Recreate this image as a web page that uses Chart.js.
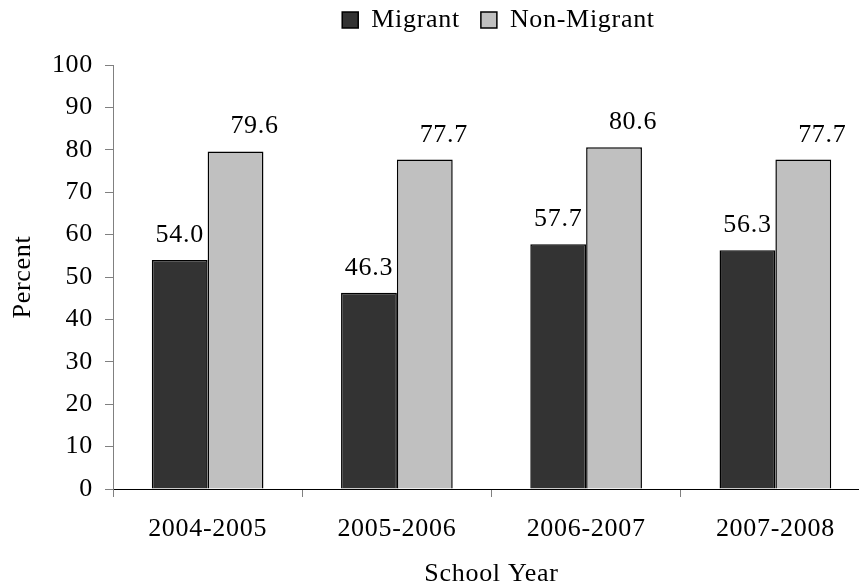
<!DOCTYPE html>
<html>
<head>
<meta charset="utf-8">
<script src="https://cdn.jsdelivr.net/npm/chart.js@4.4.1/dist/chart.umd.min.js"></script>
<style>
  html, body { margin: 0; padding: 0; background: #fff; overflow: hidden; }
  #wrap { width: 997px; height: 586px; }
</style>
</head>
<body>
<div id="wrap"><canvas id="chart" width="997" height="586"></canvas></div>
<script>
// School years and percents
const schoolYears = ['2004-2005', '2005-2006', '2006-2007', '2007-2008'];
const migrant = [54.0, 46.3, 57.7, 56.3];
const nonMigrant = [79.6, 77.7, 80.6, 77.7];
const yTicks = { min: 0, max: 100, step: 10 };

const LETTER_SPACING = '0.7px';

Chart.defaults.font.family = '"Liberation Serif", "Times New Roman", serif';
Chart.defaults.font.size = 26;
Chart.defaults.color = '#000';

// a touch of tracking, the original text is a bit wide
const spacingPlugin = {
    id: 'spacing',
    beforeLayout(chart) { chart.ctx.letterSpacing = LETTER_SPACING; },
    beforeDraw(chart) { chart.ctx.letterSpacing = LETTER_SPACING; }
};

// value labels over the bars
const barValues = {
    id: 'barValues',
    afterDatasetsDraw(chart, args, opts) {
        const ctx = chart.ctx;
        ctx.save();
        ctx.letterSpacing = LETTER_SPACING;
        ctx.font = '26px "Liberation Serif", serif';
        ctx.fillStyle = '#000';
        ctx.textAlign = 'center';
        ctx.textBaseline = 'alphabetic';
        chart.data.datasets.forEach((ds, di) => {
            const meta = chart.getDatasetMeta(di);
            const shift = opts.shifts[di] || 0;
            meta.data.forEach((bar, i) => {
                ctx.fillText(ds.data[i].toFixed(1), bar.x + shift, bar.y - opts.gap);
            });
        });
        ctx.restore();
    }
};

const ctx = document.getElementById('chart').getContext('2d');
const chart = new Chart(ctx, {
    type: 'bar',
    data: {
        labels: schoolYears,
        datasets: [{
            label: 'Migrant',
            data: migrant,
            backgroundColor: '#333333',
            borderColor: '#000',
            borderWidth: 1.5,
            categoryPercentage: 0.59,
            barPercentage: 1
        }, {
            label: 'Non-Migrant',
            data: nonMigrant,
            backgroundColor: '#c0c0c0',
            borderColor: '#000',
            borderWidth: 1.5,
            categoryPercentage: 0.59,
            barPercentage: 1
        }]
    },
    options: {
        responsive: false,
        animation: false,
        devicePixelRatio: 1,
        layout: { padding: { top: -14, left: 0, right: 0, bottom: 0 } },
        plugins: {
            tooltip: { enabled: false },
            legend: {
                position: 'top',
                labels: {
                    boxWidth: 16,
                    boxHeight: 16,
                    padding: 21,
                    font: { size: 26 },
                    color: '#000'
                }
            },
            barValues: { gap: 18, shifts: [0, 19] }
        },
        scales: {
            x: {
                position: 'bottom',
                grid: {
                    offset: true,
                    drawOnChartArea: false,
                    drawTicks: true,
                    tickLength: 8,
                    color: '#808080'
                },
                border: { display: true, color: '#000', width: 1 },
                ticks: { padding: 17, maxRotation: 0, autoSkip: false },
                title: { display: true, text: 'School Year', padding: { top: 0, bottom: -4 } },
                afterFit: s => { s.height = 97; }
            },
            xTop: {
                type: 'category',
                position: 'top',
                display: true,
                grid: { display: false },
                border: { display: false },
                ticks: { display: false },
                afterFit: s => { s.height = 22; }
            },
            y: {
                min: yTicks.min,
                max: yTicks.max,
                position: 'left',
                grid: {
                    drawOnChartArea: false,
                    drawTicks: true,
                    tickLength: 8,
                    color: '#808080'
                },
                border: { display: true, color: '#808080', width: 1 },
                ticks: { stepSize: yTicks.step, padding: 12 },
                title: { display: true, text: 'Percent', padding: { top: 8, bottom: 0 } },
                afterFit: s => { s.width = 113; }
            },
            yRight: {
                type: 'linear',
                position: 'right',
                display: true,
                grid: { display: false },
                border: { display: false },
                ticks: { display: false },
                afterFit: s => { s.width = 127; }
            }
        }
    },
    plugins: [spacingPlugin, barValues]
});
</script>
</body>
</html>
